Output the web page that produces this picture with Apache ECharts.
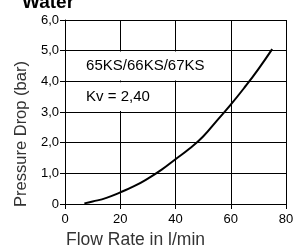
<!DOCTYPE html>
<html>
<head>
<meta charset="utf-8">
<script src="https://cdn.jsdelivr.net/npm/echarts@6/dist/echarts.min.js"></script>
<style>
  html, body { margin: 0; padding: 0; background: #fff; }
  #chart { width: 293px; height: 246px; }
</style>
</head>
<body>
<div id="chart"></div>
<script>
// curva de pérdida de carga
const flowRate = [7, 10, 15, 20, 25, 30, 35, 40, 45, 50, 55, 60, 65, 70, 75];
const pressureDrop = [0.02, 0.08, 0.2, 0.38, 0.58, 0.83, 1.12, 1.46, 1.8, 2.2, 2.72, 3.24, 3.8, 4.4, 5.05];
const xTicks = [0, 20, 40, 60, 80];
const yTicks = [0, 1, 2, 3, 4, 5, 6];
const modelLabel = "65KS/66KS/67KS";
const kvLabel = "Kv = 2,40";

const FONT = "Liberation Sans, Arial, Helvetica, sans-serif";

const chart = echarts.init(document.getElementById("chart"));

function fmtY(v) {
  return v === 0 ? "0" : v.toFixed(1).replace(".", ",");
}

// cajas blancas (tapan la rejilla vertical) con sus textos
const boxLabel = {
  show: true, position: "insideLeft", distance: 0, offset: [20, 0],
  fontFamily: FONT, fontSize: 15, color: "#000"
};
const boxes = [
  [{ name: modelLabel, xAxis: 0.4, yAxis: 4.97 }, { xAxis: 59.6, yAxis: 4.03 }],
  [{ name: kvLabel, xAxis: 0.4, yAxis: 3.97 }, { xAxis: 39.6, yAxis: 3.03 }]
];

chart.setOption({
  animation: false,
  title: {
    text: "Water",
    left: 17,
    top: -12,
    textStyle: { fontFamily: FONT, fontSize: 19, fontWeight: "bold", color: "#000" }
  },
  grid: { left: 65, right: 7, top: 20, bottom: 42, outerBoundsMode: "none", containLabel: false },
  xAxis: {
    type: "value",
    min: xTicks[0], max: xTicks[xTicks.length - 1], interval: 20,
    name: "Flow Rate in l/min",
    nameLocation: "middle",
    nameGap: 33,
    nameTextStyle: {
      fontFamily: FONT, fontSize: 17.5, color: "#333",
      verticalAlign: "middle", padding: [0, 80, 0, 0]
    },
    axisLine: { show: true, lineStyle: { color: "#000" } },
    axisLabel: { fontFamily: FONT, fontSize: 13, color: "#000", margin: 9 },
    splitLine: { show: true, lineStyle: { color: "#000" } }
  },
  yAxis: {
    type: "value",
    min: yTicks[0], max: yTicks[yTicks.length - 1], interval: 1,
    name: "Pressure Drop (bar)",
    nameLocation: "middle",
    nameGap: 26,
    nameTextStyle: {
      fontFamily: FONT, fontSize: 16.5, color: "#333",
      padding: [0, 44, 0, 0]
    },
    axisLine: { show: true, lineStyle: { color: "#000" } },
    axisLabel: { fontFamily: FONT, fontSize: 13, color: "#000", margin: 6, formatter: fmtY },
    splitLine: { show: true, lineStyle: { color: "#000" } }
  },
  series: [{
    type: "line",
    data: flowRate.map((f, i) => [f, pressureDrop[i]]),
    smooth: true,
    showSymbol: false,
    lineStyle: { color: "#000", width: 2 },
    z: 5,
    markArea: {
      silent: true,
      itemStyle: { color: "#fff", opacity: 1, borderWidth: 0 },
      label: boxLabel,
      data: boxes
    }
  }]
});
</script>
</body>
</html>
